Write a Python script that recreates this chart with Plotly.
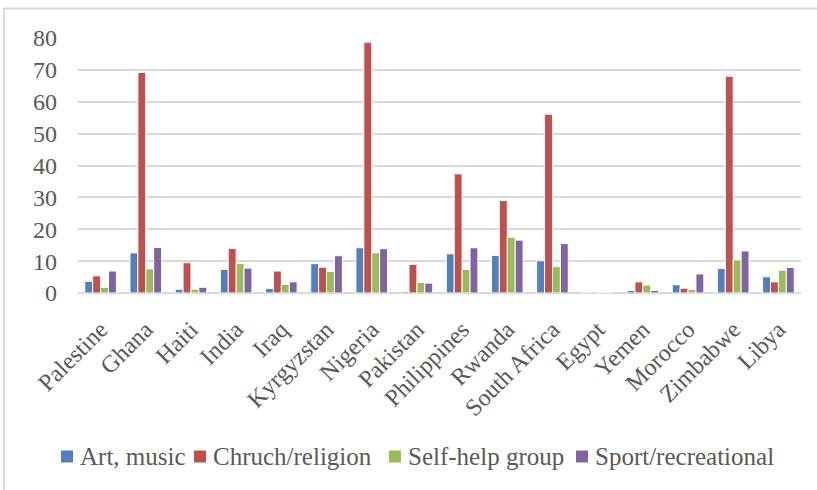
import plotly.graph_objects as go

countries = ["Palestine", "Ghana", "Haiti", "India", "Iraq", "Kyrgyzstan", "Nigeria",
             "Pakistan", "Philippines", "Rwanda", "South Africa", "Egypt", "Yemen",
             "Morocco", "Zimbabwe", "Libya"]

art_music = [3.7, 12.6, 1.2, 7.4, 1.4, 9.2, 14.2, 0.5, 12.3, 11.8, 10.1, 0.0, 0.8, 2.6, 7.7, 5.1]
church_religion = [5.4, 69.2, 9.5, 14.0, 6.9, 8.1, 78.7, 9.0, 37.4, 29.0, 56.1, 0.3, 3.5, 1.5, 68.0, 3.5]
self_help = [1.8, 7.6, 1.2, 9.3, 2.7, 6.8, 12.6, 3.3, 7.4, 17.5, 8.3, 0.0, 2.5, 1.1, 10.4, 7.1]
sport_recreational = [6.9, 14.3, 1.8, 7.8, 3.5, 11.7, 13.9, 3.1, 14.2, 16.6, 15.5, 0.0, 0.8, 6.0, 13.2, 8.0]

series_names = ["Art, music", "Chruch/religion", "Self-help group", "Sport/recreational"]
series_values = [art_music, church_religion, self_help, sport_recreational]
series_colors = ["#4F81BD", "#C0504D", "#9BBB59", "#8064A2"]

y_ticks = [0, 10, 20, 30, 40, 50, 60, 70, 80]

FONT = "Liberation Serif"
TEXT_GREY = "#595959"
GRID_GREY = "#D9D9D9"

W, H = 817, 490
M_L, M_R, M_T, M_B = 78, 16, 38, 197
PLOT_W = W - M_L - M_R
PLOT_H = H - M_T - M_B


def px_to_paper(px, py):
    """Convert page pixel position to plot-area paper coordinates."""
    return (px - M_L) / PLOT_W, (H - M_B - py) / PLOT_H


fig = go.Figure()
for name, values, color in zip(series_names, series_values, series_colors):
    fig.add_trace(go.Bar(
        x=countries, y=values, name=name, showlegend=False,
        marker=dict(color=color, line=dict(color="white", width=1)),
    ))

# Legend row drawn as square swatches followed by labels
shapes = []
annotations = []
legend_swatch_x = [61, 194, 389, 576]
legend_y = 456.5
sw = 12
for x_px, name, color in zip(legend_swatch_x, series_names, series_colors):
    x0, y0 = px_to_paper(x_px, legend_y + sw / 2)
    x1, y1 = px_to_paper(x_px + sw, legend_y - sw / 2)
    shapes.append(dict(type="rect", xref="paper", yref="paper", x0=x0, x1=x1, y0=y0, y1=y1,
                       fillcolor=color, line=dict(width=0)))
    tx, ty = px_to_paper(x_px + sw + 5, legend_y)
    annotations.append(dict(xref="paper", yref="paper", x=tx, y=ty, text=name,
                            showarrow=False, xanchor="left", yanchor="middle",
                            font=dict(family=FONT, size=25, color=TEXT_GREY)))

# Light chart-area border
bx0, by1 = px_to_paper(4, 8.5)
shapes.append(dict(type="rect", xref="paper", yref="paper", x0=bx0, x1=1.2, y0=-1.2, y1=by1,
                   line=dict(color=GRID_GREY, width=2), fillcolor="rgba(0,0,0,0)", layer="below"))

fig.update_layout(
    width=W, height=H,
    margin=dict(l=M_L, r=M_R, t=M_T, b=M_B),
    paper_bgcolor="white", plot_bgcolor="white",
    barmode="group", bargap=0.3, bargroupgap=0.0,
    font=dict(family=FONT, size=24, color=TEXT_GREY),
    showlegend=False,
    xaxis=dict(
        tickangle=-45, showgrid=False, showline=False, zeroline=False, automargin=False,
        ticks="outside", ticklen=12, tickcolor="rgba(0,0,0,0)",
        tickfont=dict(family=FONT, size=24, color=TEXT_GREY),
    ),
    yaxis=dict(
        range=[0, 80], tickvals=y_ticks, showgrid=True, gridcolor=GRID_GREY, gridwidth=2,
        zeroline=True, zerolinecolor=GRID_GREY, zerolinewidth=2, showline=False,
        automargin=False,
        tickfont=dict(family=FONT, size=24, color=TEXT_GREY),
        ticklabelstandoff=20,
    ),
    shapes=shapes,
    annotations=annotations,
)

fig.write_html("out.html")
